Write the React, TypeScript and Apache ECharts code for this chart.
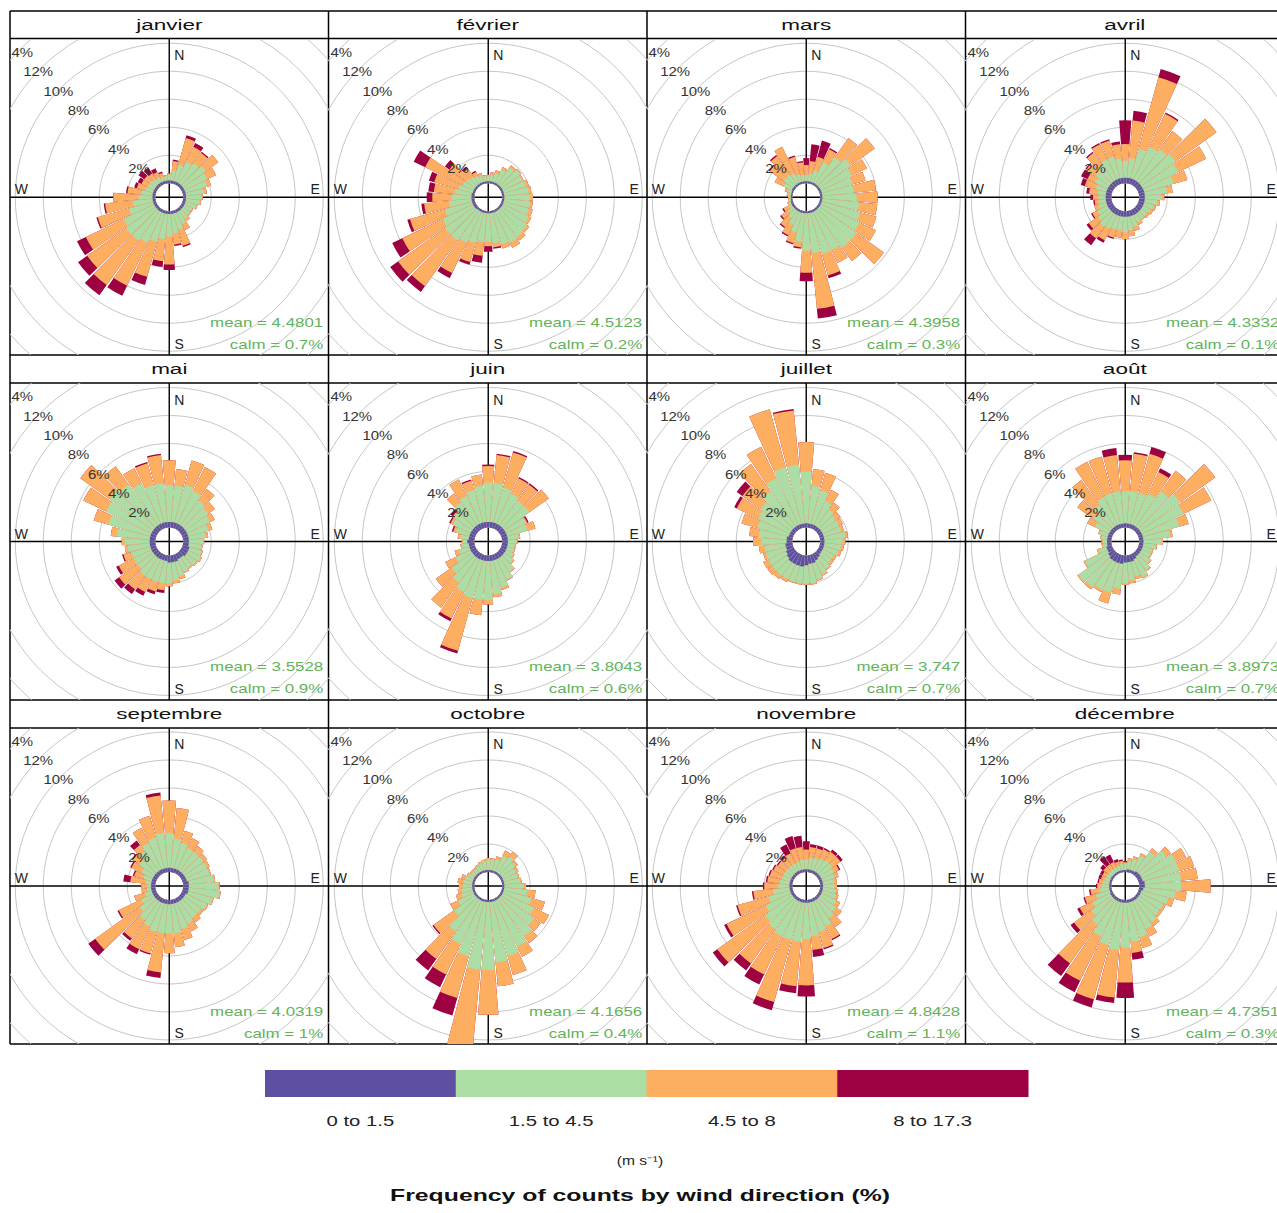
import React, { useEffect, useRef } from 'react';
import * as echarts from 'echarts';

const FONT = '"Liberation Sans", Arial, Helvetica, sans-serif';

// ---------- categories / labels ----------
const directions = ['10', '20', '30', '40', '50', '60', '70', '80', '90', '100', '110', '120', '130', '140', '150', '160', '170', '180',
  '190', '200', '210', '220', '230', '240', '250', '260', '270', '280', '290', '300', '310', '320', '330', '340', '350', '360'];
const months = ['janvier', 'février', 'mars', 'avril', 'mai', 'juin', 'juillet', 'août', 'septembre', 'octobre', 'novembre', 'décembre'];
const means = ['4.4801', '4.5123', '4.3958', '4.3332', '3.5528', '3.8043', '3.747', '3.8973', '4.0319', '4.1656', '4.8428', '4.7351'];
const calms = ['0.7%', '0.2%', '0.3%', '0.1%', '0.9%', '0.6%', '0.7%', '0.7%', '1%', '0.4%', '1.1%', '0.3%'];
const speedBins = ['0 to 1.5', '1.5 to 4.5', '4.5 to 8', '8 to 17.3'];
const binColors = ['#5e4fa2', '#abdda4', '#fdae61', '#9e0142'];
const ringValues = [2, 4, 6, 8, 10, 12, 14];

// ---------- cumulative frequencies (%) by direction: S1 = speed <=1.5, S2 <=4.5, S3 <=8, S4 <=17.3 ----------
const janS1 = [0.2,0.2,0.2,0.2,0.2,0.2,0.2,0.2,0.2,0.2,0.2,0.2,0.2,0.2,0.2,0.2,0.2,0.2,0.2,0.2,0.2,0.2,0.2,0.2,0.2,0.2,0.2,0.2,0.2,0.2,0.2,0.2,0.2,0.2,0.2,0.2];
const janS2 = [0.9,1.4,1.8,2.0,2.2,2.0,1.8,1.5,1.3,1.2,1.0,0.8,0.8,0.9,1.1,1.4,1.6,1.8,2.0,2.3,2.6,2.8,2.8,2.6,2.0,1.6,1.2,1.0,0.8,0.7,0.7,0.6,0.6,0.5,0.5,0.6];
const janS3 = [1.6,3.4,3.0,2.9,3.3,2.7,2.1,1.7,1.4,1.3,1.1,0.9,0.9,1.1,1.6,2.6,2.4,3.8,3.6,4.9,6.0,6.7,6.2,5.6,4.3,3.6,3.0,2.0,1.4,1.2,1.2,1.1,1.0,0.8,0.6,0.7];
const janS4 = [1.7,3.6,3.3,3.0,3.3,2.7,2.1,1.7,1.4,1.3,1.1,0.9,0.9,1.1,1.6,2.7,2.5,4.2,4.0,5.5,6.8,7.6,7.0,6.3,4.4,3.7,3.0,2.1,1.6,1.5,1.7,1.6,1.3,0.9,0.6,0.7];

const febS1 = [0.15,0.15,0.15,0.15,0.15,0.15,0.15,0.15,0.15,0.15,0.15,0.15,0.15,0.15,0.15,0.15,0.15,0.15,0.15,0.15,0.15,0.15,0.2,0.2,0.2,0.2,0.2,0.2,0.15,0.15,0.15,0.15,0.15,0.15,0.15,0.15];
const febS2 = [0.6,0.8,1.2,1.6,1.8,1.7,1.8,1.9,2.0,2.0,2.0,2.2,2.4,2.5,2.6,2.5,2.3,2.2,2.2,2.4,2.6,2.8,2.8,2.6,2.2,1.8,1.6,1.4,1.2,1.0,0.9,0.8,0.7,0.6,0.5,0.5];
const febS3 = [0.8,1.0,1.4,1.8,1.9,1.8,2.0,2.1,2.2,2.2,2.3,2.4,2.6,2.8,3.0,2.8,2.6,2.5,3.2,3.8,5.0,6.8,6.9,5.8,4.8,3.6,3.0,2.9,3.0,4.0,2.4,1.5,1.0,0.8,0.6,0.6];
const febS4 = [0.8,1.0,1.4,1.8,1.9,1.8,2.0,2.1,2.2,2.2,2.3,2.4,2.6,2.8,3.0,2.8,2.7,2.9,3.7,4.0,5.4,7.3,7.6,6.6,5.0,3.8,3.4,3.3,3.4,4.9,2.8,1.7,1.1,0.8,0.6,0.6];

const marS1 = [0.15,0.15,0.15,0.15,0.15,0.15,0.15,0.15,0.15,0.15,0.15,0.15,0.15,0.15,0.15,0.15,0.15,0.15,0.15,0.15,0.15,0.15,0.15,0.15,0.15,0.1,0.1,0.1,0.1,0.15,0.15,0.15,0.15,0.15,0.15,0.15];
const marS2 = [0.7,1.0,1.8,2.5,2.9,2.6,2.4,2.4,2.6,2.8,3.0,3.2,3.4,3.4,3.2,3.2,3.0,2.8,2.2,1.6,1.2,0.8,0.6,0.4,0.3,0.3,0.2,0.3,0.4,0.8,1.0,1.0,0.9,0.7,0.6,0.6];
const marS3 = [1.6,2.0,2.8,4.2,5.0,3.8,3.4,4.0,4.1,4.1,4.2,4.5,5.8,4.6,4.2,4.8,7.0,4.4,2.6,2.4,2.0,1.6,1.2,0.8,0.4,0.3,0.3,0.4,0.6,1.5,2.2,2.6,3.0,2.0,1.5,1.3];
const marS4 = [2.8,3.2,2.9,4.2,5.0,3.8,3.4,4.0,4.1,4.1,4.2,4.5,5.8,4.6,4.2,5.0,7.7,5.0,2.7,2.5,2.1,1.7,1.3,0.9,0.4,0.3,0.3,0.4,0.6,1.5,2.3,2.7,3.0,2.1,1.6,1.8];

const aprS1 = [0.4,0.4,0.4,0.4,0.4,0.4,0.4,0.4,0.4,0.4,0.4,0.4,0.4,0.4,0.4,0.4,0.4,0.4,0.4,0.4,0.4,0.4,0.4,0.4,0.4,0.4,0.4,0.4,0.4,0.4,0.4,0.4,0.4,0.4,0.4,0.4];
const aprS2 = [1.8,2.6,3.0,3.2,3.4,3.2,2.6,2.0,1.6,1.3,1.1,1.0,0.9,0.9,1.0,1.2,1.4,1.5,1.4,1.4,1.5,1.6,1.4,1.2,1.0,0.9,0.9,1.0,1.2,1.4,1.6,1.8,2.0,2.0,1.8,1.6];
const aprS3 = [4.5,7.9,5.6,4.8,7.0,5.4,3.6,2.4,1.8,1.5,1.3,1.2,1.1,1.0,1.2,1.5,1.8,2.0,1.9,2.0,2.4,2.6,2.2,1.6,1.3,1.2,1.3,1.6,2.0,2.0,2.4,2.9,3.2,3.2,2.8,2.8];
const aprS4 = [5.2,8.5,5.7,4.8,7.0,5.4,3.6,2.4,1.8,1.5,1.3,1.2,1.1,1.0,1.2,1.5,1.8,2.0,1.9,2.1,2.6,3.2,2.4,1.7,1.3,1.3,1.5,1.8,2.3,2.5,2.5,3.0,3.3,3.3,3.0,4.5];

const mayS1 = [0.4,0.4,0.4,0.4,0.4,0.4,0.4,0.4,0.4,0.4,0.5,0.5,0.5,0.4,0.4,0.5,0.5,0.5,0.4,0.4,0.4,0.4,0.4,0.4,0.4,0.4,0.4,0.4,0.4,0.4,0.4,0.4,0.4,0.4,0.4,0.4];
const mayS2 = [3.0,3.2,3.0,2.6,2.4,2.2,1.9,1.6,1.4,1.3,1.4,1.5,1.4,1.3,1.4,1.6,1.8,2.0,2.0,2.0,2.0,2.0,1.8,1.8,1.8,2.0,2.2,2.8,3.5,4.0,4.2,4.0,3.6,3.2,3.2,3.0];
const mayS3 = [4.2,5.0,4.9,3.6,3.0,2.6,2.2,1.8,1.5,1.4,1.5,1.6,1.5,1.4,1.5,1.8,2.0,2.2,2.5,2.7,3.0,3.2,3.4,3.0,2.4,2.2,2.4,3.2,4.6,5.8,6.8,5.6,4.8,4.8,5.2,4.8];
const mayS4 = [4.2,5.0,4.9,3.6,3.0,2.6,2.2,1.8,1.5,1.4,1.5,1.6,1.5,1.4,1.5,1.8,2.0,2.2,2.7,2.9,3.3,3.6,3.8,3.2,2.5,2.2,2.4,3.2,4.6,5.8,6.8,5.6,4.8,4.9,5.3,4.8];

const junS1 = [0.4,0.4,0.4,0.4,0.4,0.4,0.4,0.4,0.4,0.4,0.4,0.4,0.4,0.4,0.4,0.4,0.4,0.4,0.4,0.4,0.4,0.4,0.4,0.4,0.4,0.4,0.5,0.4,0.4,0.4,0.4,0.4,0.4,0.4,0.4,0.4];
const junS2 = [3.2,3.0,2.8,2.6,2.6,2.0,1.9,1.2,1.0,0.9,0.9,1.0,1.2,1.6,2.0,2.4,2.8,3.2,3.2,3.2,3.0,2.6,2.2,1.6,1.2,0.9,0.8,1.0,1.4,1.8,2.0,2.4,2.6,2.8,3.0,3.2];
const junS3 = [5.2,5.6,4.0,4.0,4.3,2.1,2.5,1.3,1.1,1.0,1.0,1.1,1.3,1.7,2.1,2.6,3.0,3.5,4.3,7.1,5.1,4.8,3.6,2.4,1.5,1.0,0.9,1.2,1.6,2.0,2.1,3.2,3.9,3.5,3.8,4.4];
const junS4 = [5.3,5.7,4.1,4.1,4.3,2.2,2.5,1.3,1.1,1.0,1.0,1.1,1.3,1.7,2.1,2.6,3.0,3.5,4.3,7.3,5.3,4.8,3.6,2.4,1.5,1.0,0.9,1.2,1.7,2.1,2.3,3.2,3.9,3.6,3.8,4.5];

const julS1 = [0.3,0.3,0.3,0.3,0.3,0.3,0.3,0.3,0.3,0.3,0.3,0.3,0.3,0.4,0.5,0.6,0.6,0.7,0.8,0.8,0.8,0.8,0.7,0.6,0.5,0.5,0.4,0.4,0.3,0.3,0.3,0.3,0.3,0.3,0.3,0.3];
const julS2 = [3.0,2.8,2.2,1.8,1.6,1.6,1.6,1.8,1.6,1.5,1.4,1.2,1.2,1.4,1.6,1.8,2.0,2.0,2.0,2.0,2.0,2.0,2.0,2.0,2.0,2.0,2.2,2.4,2.6,2.8,3.0,3.4,4.0,4.5,4.5,4.0];
const julS3 = [4.2,4.1,3.1,2.4,2.0,1.9,1.8,2.0,1.8,1.7,1.6,1.4,1.4,1.5,1.7,1.9,2.1,2.1,2.1,2.1,2.2,2.3,2.4,2.4,2.2,2.4,2.8,3.1,3.8,4.5,4.6,5.8,6.5,8.8,8.4,6.1];
const julS4 = [4.2,4.1,3.1,2.4,2.0,1.9,1.8,2.0,1.8,1.7,1.6,1.4,1.4,1.5,1.7,1.9,2.1,2.1,2.1,2.1,2.2,2.3,2.4,2.4,2.2,2.4,2.8,3.1,3.8,4.7,5.1,5.8,6.5,8.8,8.5,6.1];

const augS1 = [0.3,0.3,0.3,0.3,0.3,0.3,0.3,0.3,0.3,0.3,0.3,0.3,0.3,0.3,0.4,0.5,0.5,0.5,0.6,0.6,0.6,0.6,0.5,0.4,0.4,0.3,0.3,0.3,0.3,0.3,0.3,0.3,0.3,0.3,0.3,0.3];
const augS2 = [2.6,2.6,2.8,3.4,3.8,3.6,3.0,2.2,1.6,1.2,1.0,1.0,1.2,1.5,1.8,1.6,1.8,2.0,2.4,2.8,2.8,3.0,3.1,2.2,1.0,0.6,0.6,0.7,0.9,1.4,1.8,2.2,2.5,2.6,2.6,2.6];
const augS3 = [5.3,5.5,4.5,5.2,6.9,5.8,3.7,2.4,1.7,1.3,1.1,1.1,1.3,1.6,1.9,1.8,2.0,2.1,2.8,3.6,3.0,3.2,3.2,2.3,1.1,0.7,0.7,0.8,1.0,2.0,3.2,4.4,5.3,5.3,5.2,4.8];
const augS4 = [5.4,6.0,4.8,5.2,6.9,5.8,3.7,2.4,1.7,1.3,1.1,1.1,1.3,1.6,1.9,1.8,2.0,2.1,2.8,3.6,3.0,3.2,3.2,2.3,1.1,0.7,0.7,0.8,1.0,2.0,3.2,4.4,5.3,5.3,5.7,5.2];

const sepS1 = [0.3,0.3,0.3,0.3,0.3,0.3,0.3,0.4,0.4,0.4,0.4,0.3,0.3,0.3,0.3,0.3,0.3,0.3,0.3,0.3,0.3,0.3,0.3,0.3,0.3,0.3,0.3,0.3,0.3,0.3,0.3,0.3,0.3,0.3,0.3,0.3];
const sepS2 = [2.4,2.2,2.0,2.0,2.0,2.0,2.0,2.2,2.5,2.6,2.2,2.0,1.8,1.8,2.0,2.2,2.4,2.4,2.4,2.4,2.2,2.0,1.6,1.2,0.8,0.6,0.6,0.7,0.9,1.2,1.6,2.0,2.4,2.6,2.8,2.8];
const sepS3 = [4.6,3.1,2.8,2.5,2.3,2.2,2.1,2.3,2.6,2.7,2.3,2.1,2.0,2.2,2.6,3.0,3.4,3.8,5.2,4.0,4.0,3.6,5.5,3.0,1.6,1.0,1.0,1.8,1.6,2.0,2.2,2.6,3.6,4.2,5.5,5.1];
const sepS4 = [4.6,3.1,2.8,2.5,2.3,2.2,2.1,2.3,2.6,2.7,2.3,2.1,2.0,2.2,2.6,3.0,3.4,3.8,5.6,4.1,4.4,3.8,6.1,3.1,1.6,1.0,1.0,2.3,1.7,2.1,2.3,3.0,3.6,4.2,5.7,5.1];

const octS1 = [0.15,0.15,0.15,0.15,0.15,0.15,0.15,0.15,0.15,0.15,0.15,0.15,0.15,0.15,0.15,0.15,0.15,0.15,0.15,0.15,0.15,0.15,0.15,0.15,0.15,0.15,0.15,0.15,0.15,0.15,0.15,0.15,0.15,0.15,0.15,0.15];
const octS2 = [0.9,1.0,1.4,1.6,1.4,1.2,1.2,1.3,1.5,1.8,2.2,2.6,3.0,3.4,3.8,4.2,4.5,5.0,5.0,4.2,3.6,3.0,2.0,1.4,1.0,0.9,0.8,0.8,0.7,0.6,0.5,0.5,0.6,0.7,0.8,0.9];
const octS3 = [1.0,1.2,1.8,2.0,1.6,1.4,1.3,1.4,1.7,2.4,3.2,3.8,3.6,4.0,4.6,5.6,6.2,8.2,11.0,7.3,6.0,5.4,3.8,2.0,1.4,1.2,1.1,1.2,1.0,0.7,0.6,0.6,0.7,0.8,0.9,1.0];
const octS4 = [1.0,1.2,1.8,2.0,1.6,1.4,1.3,1.4,1.7,2.4,3.2,3.8,3.6,4.0,4.6,5.6,6.2,8.2,11.0,8.6,7.0,6.4,3.9,2.0,1.4,1.2,1.1,1.2,1.0,0.7,0.6,0.6,0.7,0.8,0.9,1.0];

const novS1 = [0.2,0.2,0.2,0.2,0.2,0.2,0.2,0.2,0.2,0.2,0.2,0.2,0.2,0.2,0.2,0.2,0.2,0.2,0.2,0.2,0.2,0.2,0.2,0.2,0.2,0.2,0.2,0.2,0.2,0.2,0.2,0.2,0.2,0.2,0.2,0.2];
const novS2 = [1.0,1.1,1.2,1.3,1.3,1.2,1.1,1.0,1.0,1.1,1.2,1.4,1.6,1.8,2.2,2.4,2.6,2.8,3.0,3.0,3.0,2.8,2.6,2.2,1.8,1.4,1.0,0.9,0.8,0.8,0.8,0.8,0.8,0.8,0.9,0.9];
const novS3 = [1.8,1.8,1.9,2.0,2.0,1.6,1.4,1.2,1.2,1.3,1.4,1.7,2.1,2.6,3.2,3.6,3.6,6.1,6.2,7.6,6.0,5.8,6.8,5.3,4.1,2.8,2.0,1.8,1.7,1.6,1.5,1.5,1.6,1.8,1.8,1.6];
const novS4 = [2.0,2.0,2.0,2.2,2.2,1.7,1.4,1.2,1.2,1.3,1.4,1.7,2.1,2.6,3.3,3.7,4.1,6.9,6.7,8.2,6.8,6.4,7.2,5.5,4.2,2.9,2.1,1.9,1.8,1.7,1.6,1.7,2.3,2.7,2.6,2.2];

const decS1 = [0.2,0.2,0.2,0.3,0.3,0.3,0.3,0.4,0.4,0.3,0.2,0.2,0.2,0.2,0.2,0.2,0.2,0.2,0.2,0.2,0.2,0.2,0.2,0.2,0.15,0.15,0.15,0.15,0.15,0.15,0.15,0.15,0.15,0.15,0.15,0.15];
const decS2 = [0.8,1.0,1.4,2.0,2.6,3.0,3.0,3.0,3.0,2.6,2.2,2.0,2.0,2.2,2.4,2.8,3.0,3.4,3.6,3.4,3.0,2.4,2.0,1.6,1.2,0.9,0.7,0.6,0.5,0.5,0.5,0.5,0.5,0.5,0.6,0.6];
const decS3 = [1.0,1.2,1.6,2.3,3.0,3.8,4.1,4.2,5.1,3.4,2.6,2.2,2.2,2.5,3.0,3.6,3.8,5.9,7.0,7.4,6.5,5.8,3.5,2.6,2.0,1.5,1.0,0.9,0.8,0.8,0.9,0.9,0.9,0.8,0.8,0.7];
const decS4 = [1.0,1.2,1.6,2.3,3.0,3.8,4.1,4.2,5.1,3.4,2.6,2.2,2.2,2.5,3.0,3.6,4.3,7.0,7.4,8.0,7.4,6.9,3.8,2.8,2.1,1.6,1.1,1.0,1.0,1.0,1.2,1.6,1.5,1.0,0.9,0.8];

const monthSeries = [
  [janS1, janS2, janS3, janS4], [febS1, febS2, febS3, febS4], [marS1, marS2, marS3, marS4], [aprS1, aprS2, aprS3, aprS4],
  [mayS1, mayS2, mayS3, mayS4], [junS1, junS2, junS3, junS4], [julS1, julS2, julS3, julS4], [augS1, augS2, augS3, augS4],
  [sepS1, sepS2, sepS3, sepS4], [octS1, octS2, octS3, octS4], [novS1, novS2, novS3, novS4], [decS1, decS2, decS3, decS4],
];

// ---------- layout ----------
const PAGE_W = 1277;
const PAGE_H = 1213;
const COL_X = [10, 328.5, 647, 965.5, 1284];
const STRIP_TOP = [11, 355, 700];
const PANEL_TOP = [38.5, 383, 728];
const PANEL_BOTTOM = [355, 700, 1044];
const HOLE = 14; // px, inner offset of the rose
const PX_PER_PCT = 14;
const R_MAX = 14;

function panelOption(index: number, w: number, h: number) {
  const cx = w / 2;
  const cy = h / 2;
  const [s1, s2, s3, s4] = monthSeries[index];
  const cumul = [s4, s3, s2, s1];
  const colors = [binColors[3], binColors[2], binColors[1], binColors[0]];
  const names = [speedBins[3], speedBins[2], speedBins[1], speedBins[0]];
  const ringColors = ['rgba(0,0,0,0)'].concat(ringValues.map(() => '#c6c6c6'));

  const graphics: any[] = [
    { type: 'line', z: 1, shape: { x1: 0, y1: cy, x2: w, y2: cy }, style: { stroke: '#000', lineWidth: 1.4 } },
    { type: 'line', z: 1, shape: { x1: cx, y1: 0, x2: cx, y2: h }, style: { stroke: '#000', lineWidth: 1.4 } },
  ];
  ringValues.forEach((v) => {
    const r = HOLE + PX_PER_PCT * v;
    graphics.push({
      type: 'text', z: 10, x: cx - r * 0.72, y: cy - r * 0.69, scaleX: 1.15,
      style: { text: v + '%', fontSize: 13, fontFamily: FONT, fill: '#333', align: 'center', verticalAlign: 'middle' },
    });
  });
  const compass = [
    { t: 'N', x: cx + 10, y: cy - 142 },
    { t: 'S', x: cx + 10, y: cy + 147 },
    { t: 'W', x: cx - 148, y: cy - 8 },
    { t: 'E', x: cx + 146, y: cy - 8 },
  ];
  compass.forEach((c) => {
    graphics.push({
      type: 'text', z: 10, x: c.x, y: c.y,
      style: { text: c.t, fontSize: 14, fontFamily: FONT, fill: '#222', align: 'center', verticalAlign: 'middle' },
    });
  });
  graphics.push({
    type: 'text', z: 10, x: cx + 154, y: cy + 125, scaleX: 1.3,
    style: { text: 'mean = ' + means[index], fontSize: 13, fontFamily: FONT, fill: '#62b35a', align: 'right', verticalAlign: 'middle' },
  });
  graphics.push({
    type: 'text', z: 10, x: cx + 154, y: cy + 147, scaleX: 1.3,
    style: { text: 'calm = ' + calms[index], fontSize: 13, fontFamily: FONT, fill: '#62b35a', align: 'right', verticalAlign: 'middle' },
  });

  return {
    animation: false,
    polar: { center: [cx, cy], radius: [HOLE, HOLE + PX_PER_PCT * R_MAX] },
    angleAxis: {
      type: 'category', data: directions, startAngle: 85, clockwise: true,
      axisLine: { show: false }, axisTick: { show: false }, axisLabel: { show: false }, splitLine: { show: false },
    },
    radiusAxis: {
      type: 'value', min: 0, max: R_MAX, interval: 2,
      axisLine: { show: false }, axisTick: { show: false }, axisLabel: { show: false },
      splitLine: { show: true, lineStyle: { color: ringColors, width: 1 } },
    },
    series: cumul.map((data, i) => ({
      type: 'bar', name: names[i], coordinateSystem: 'polar', data,
      barGap: '-100%', barCategoryGap: '9%',
      itemStyle: { color: colors[i] },
      emphasis: { disabled: true },
    })),
    graphic: { elements: graphics },
  };
}

function Panel({ index }: { index: number }) {
  const ref = useRef<HTMLDivElement>(null);
  const col = index % 4;
  const row = Math.floor(index / 4);
  const left = COL_X[col];
  const top = PANEL_TOP[row];
  const w = COL_X[col + 1] - left;
  const h = PANEL_BOTTOM[row] - top;
  useEffect(() => {
    const chart = echarts.init(ref.current as HTMLDivElement, null, { renderer: 'svg', width: w, height: h });
    chart.setOption(panelOption(index, w, h));
    return () => chart.dispose();
  }, []);
  return <div ref={ref} style={{ position: 'absolute', left, top, width: w, height: h, overflow: 'hidden' }} />;
}

function Frame() {
  const ref = useRef<HTMLDivElement>(null);
  useEffect(() => {
    const chart = echarts.init(ref.current as HTMLDivElement, null, { renderer: 'svg', width: PAGE_W, height: PAGE_H });
    const g: any[] = [];
    const hLines = [STRIP_TOP[0], PANEL_TOP[0], STRIP_TOP[1], PANEL_TOP[1], STRIP_TOP[2], PANEL_TOP[2], PANEL_BOTTOM[2]];
    hLines.forEach((y) => g.push({ type: 'line', shape: { x1: COL_X[0], y1: y, x2: COL_X[4], y2: y }, style: { stroke: '#000', lineWidth: 1.5 } }));
    COL_X.forEach((x) => g.push({ type: 'line', shape: { x1: x, y1: STRIP_TOP[0], x2: x, y2: PANEL_BOTTOM[2] }, style: { stroke: '#000', lineWidth: 1.5 } }));
    months.forEach((m, i) => {
      const col = i % 4;
      const row = Math.floor(i / 4);
      const cx = (COL_X[col] + COL_X[col + 1]) / 2;
      const cy = (STRIP_TOP[row] + PANEL_TOP[row]) / 2;
      g.push({
        type: 'text', x: cx, y: cy, scaleX: 1.5,
        style: { text: m, fontSize: 15, fontFamily: FONT, fill: '#111', align: 'center', verticalAlign: 'middle' },
      });
    });
    // colour key
    const keyX0 = 265;
    const keyX1 = 1028;
    const segW = (keyX1 - keyX0) / speedBins.length;
    speedBins.forEach((b, i) => {
      g.push({ type: 'rect', shape: { x: keyX0 + i * segW, y: 1070, width: segW + 0.5, height: 27 }, style: { fill: binColors[i] } });
      g.push({
        type: 'text', x: keyX0 + (i + 0.5) * segW, y: 1121, scaleX: 1.45,
        style: { text: b, fontSize: 14, fontFamily: FONT, fill: '#222', align: 'center', verticalAlign: 'middle' },
      });
    });
    g.push({
      type: 'text', x: 640, y: 1161, scaleX: 1.3,
      style: { text: '(m s⁻¹)', fontSize: 12, fontFamily: FONT, fill: '#222', align: 'center', verticalAlign: 'middle' },
    });
    g.push({
      type: 'text', x: 640, y: 1195, scaleX: 1.55,
      style: { text: 'Frequency of counts by wind direction (%)', fontSize: 16, fontWeight: 'bold', fontFamily: FONT, fill: '#111', align: 'center', verticalAlign: 'middle' },
    });
    chart.setOption({ animation: false, graphic: { elements: g } });
    return () => chart.dispose();
  }, []);
  return <div ref={ref} style={{ position: 'absolute', left: 0, top: 0, width: PAGE_W, height: PAGE_H }} />;
}

export default function App() {
  return (
    <div style={{ position: 'absolute', left: 0, top: 0, width: PAGE_W, height: PAGE_H, overflow: 'hidden', background: '#fff' }}>
      <Frame />
      {months.map((m, i) => (
        <Panel key={m} index={i} />
      ))}
    </div>
  );
}
